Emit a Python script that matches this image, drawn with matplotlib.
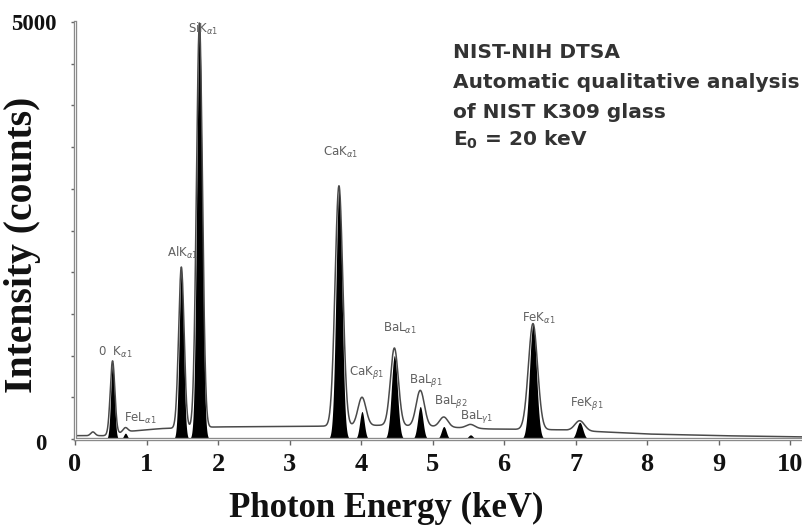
import numpy as np
import matplotlib
matplotlib.use("Agg")
import matplotlib.pyplot as plt
from matplotlib.ticker import MultipleLocator
from matplotlib.transforms import ScaledTranslation

plt.rcParams['mathtext.fontset'] = 'dejavusans'

# ---- data ----
# spectrum peaks (energy keV, height above background in counts, width sigma keV)
peak_energy = [0.25, 0.525, 0.705, 1.487, 1.740, 3.691, 4.013, 4.466, 4.828, 5.157, 5.531, 6.404, 7.058]
peak_height = [45, 880, 55, 1930, 4850, 2880, 340, 930, 430, 120, 45, 1270, 120]
peak_sigma = [0.03, 0.032, 0.034, 0.038, 0.042, 0.054, 0.056, 0.055, 0.057, 0.058, 0.060, 0.064, 0.067]

# continuum background (energy keV, counts)
bg_energy = [0.0, 0.15, 0.4, 0.8, 1.2, 2.0, 3.0, 3.6, 4.3, 5.0, 5.8, 6.8, 8.0, 9.0, 10.2]
bg_counts = [40, 40, 40, 95, 125, 145, 150, 155, 165, 150, 120, 110, 60, 40, 25]

# identified lines (black filled markers)
line_names = [r"0  K$_{\alpha1}$", r"FeL$_{\alpha1}$", r"AlK$_{\alpha1}$", r"SiK$_{\alpha1}$",
              r"CaK$_{\alpha1}$", r"CaK$_{\beta1}$", r"BaL$_{\alpha1}$", r"BaL$_{\beta1}$",
              r"BaL$_{\beta2}$", r"BaL$_{\gamma1}$", r"FeK$_{\alpha1}$", r"FeK$_{\beta1}$"]
line_energy = [0.525, 0.705, 1.487, 1.740, 3.691, 4.013, 4.466, 4.828, 5.157, 5.531, 6.404, 7.058]
line_fill = [900, 70, 2000, 4990, 2990, 330, 1000, 390, 150, 50, 1370, 200]
line_fill_sigma = [0.026, 0.024, 0.031, 0.037, 0.042, 0.032, 0.042, 0.036, 0.034, 0.032, 0.048, 0.042]
label_x = [0.56, 0.91, 1.51, 1.80, 3.71, 4.07, 4.55, 4.90, 5.26, 5.62, 6.48, 7.16]
label_y = [1043, 250, 2230, 4916, 3430, 800, 1330, 707, 444, 264, 1450, 420]

x_ticks = [0, 1, 2, 3, 4, 5, 6, 7, 8, 9, 10]
y_ticks = [0, 5000]

info_lines = ["NIST-NIH DTSA", "Automatic qualitative analysis",
              "of NIST K309 glass", r"E$_\mathbf{0}$ = 20 keV"]

# ---- figure ----
fig = plt.figure(figsize=(8.03, 5.27), dpi=100)
ax = fig.add_axes([75 / 803, 1 - 439 / 527, (803 - 75) / 803, (439 - 22) / 527])
ax.set_xlim(0, 10.18)
ax.set_ylim(0, 5000)

E = np.linspace(0, 10.18, 4000)
spec = np.interp(E, bg_energy, bg_counts)
for e, h, s in zip(peak_energy, peak_height, peak_sigma):
    spec = spec + h * np.exp(-(E - e) ** 2 / (2 * s ** 2))

fill = np.zeros_like(E)
for e, h, s in zip(line_energy, line_fill, line_fill_sigma):
    fill = fill + h * np.exp(-(E - e) ** 2 / (2 * s ** 2))
fill = np.minimum(fill, spec)

ax.fill_between(E, 0, fill, color='black', lw=0)
ax.plot(E, spec, color='#4a4a4a', lw=1.1)

for name, x, y in zip(line_names, label_x, label_y):
    ax.text(x, y, name, ha='center', va='center', fontsize=8.5, color='#606060',
            family='DejaVu Sans')

# spines as double grey lines
for side in ['top', 'right']:
    ax.spines[side].set_visible(False)
for side in ['left', 'bottom']:
    ax.spines[side].set_color('#8a8a8a')
    ax.spines[side].set_linewidth(2.4)
ax.axhline(0, color='white', lw=0.6, clip_on=False, zorder=5)
ax.axvline(0, color='white', lw=0.6, clip_on=False, zorder=5)

serif_bold = dict(family='Liberation Serif', weight='bold')
ax.set_xticks(x_ticks)
ax.set_xticklabels([str(t) for t in x_ticks], fontsize=19, **serif_bold)
ax.set_yticks(y_ticks)
ax.set_yticklabels([str(t) for t in y_ticks], fontsize=16.5, **serif_bold)
ax.yaxis.set_minor_locator(MultipleLocator(500))
ax.tick_params(axis='x', direction='out', length=4, width=1, color='#666666', pad=6, labelcolor='#111111')
ax.tick_params(axis='y', which='both', direction='out', length=3, width=1, color='#666666', pad=10,
               labelcolor='#111111')
# the "0" label sits further left than "5000" in the reference
zero_lbl = ax.get_yticklabels()[0]
zero_lbl.set_transform(zero_lbl.get_transform() + ScaledTranslation(-10 / 100, -3 / 100, fig.dpi_scale_trans))

fig.text(386 / 803, 1 - 508 / 527, "Photon Energy (keV)", ha='center', va='center',
         fontsize=25, color='#111111', **serif_bold)
fig.text(23 / 803, 1 - 245 / 527, "Intensity (counts)", ha='center', va='center', rotation=90,
         fontsize=28.5, color='#111111', **serif_bold)

info_y = [53, 83, 112, 140]
for txt, yy in zip(info_lines, info_y):
    fig.text(453 / 803, 1 - yy / 527, txt, ha='left', va='center', fontsize=14.5,
             color='#333333', family='DejaVu Sans', weight='bold')

fig.savefig('out.png', dpi=100)
